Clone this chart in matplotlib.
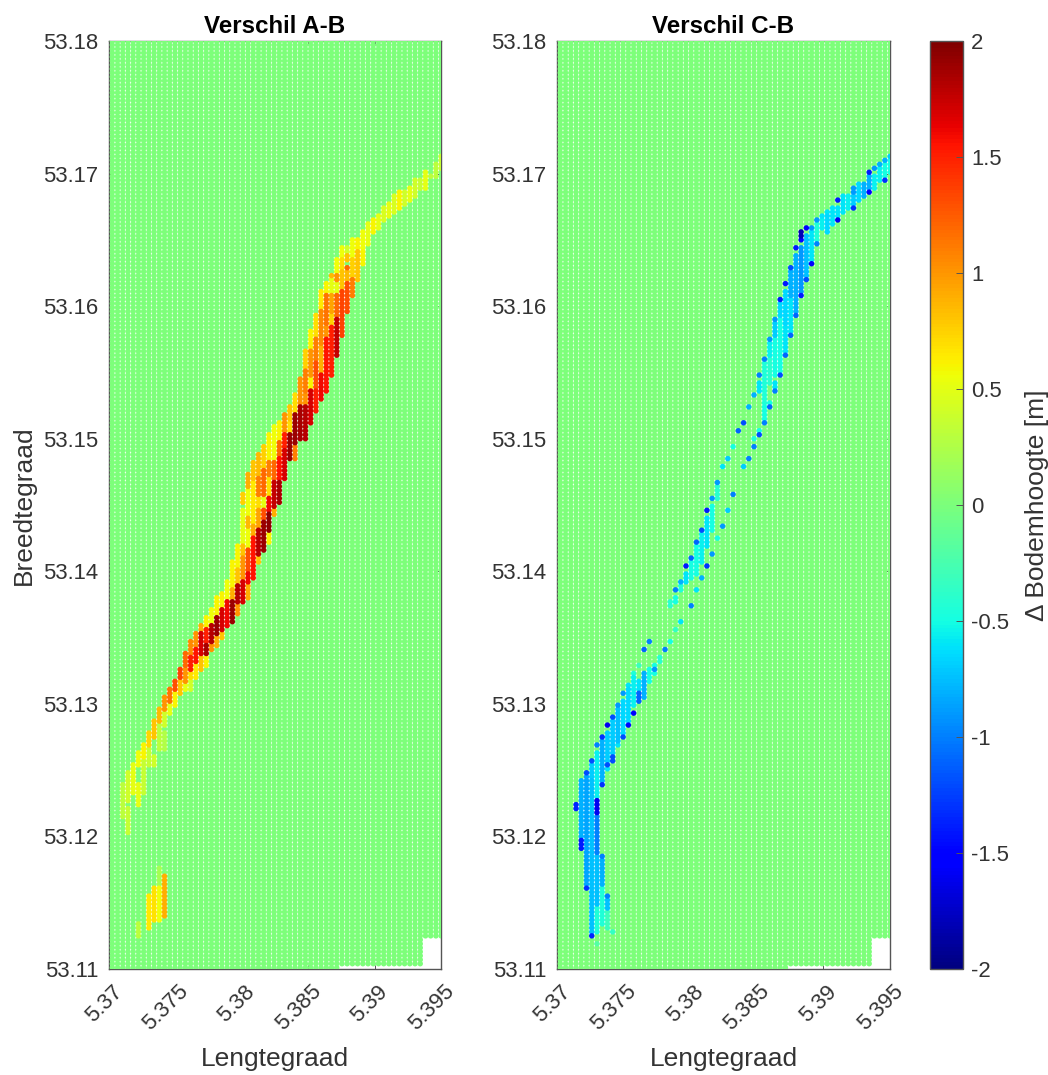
import numpy as np
import matplotlib
matplotlib.use("Agg")
import matplotlib.pyplot as plt
from matplotlib.cm import ScalarMappable
from matplotlib.colors import Normalize
from matplotlib.transforms import ScaledTranslation

plt.rcParams['font.family'] = ['Liberation Sans', 'DejaVu Sans']

# Grid of the survey cells (everything outside the listed segments is 0 m)
grid_lon = np.arange(5.37025, 5.3953, 0.000393)
grid_lat = np.arange(53.1101, 53.1802, 0.0003)
# column index -> lowest latitude present in that column
grid_start_cols = [0, 44, 60]
grid_start_lats = [53.1100, 53.1103, 53.1124]

x_ticks = [5.37, 5.375, 5.38, 5.385, 5.39, 5.395]
x_labels = ['5.37', '5.375', '5.38', '5.385', '5.39', '5.395']
y_ticks = [53.11, 53.12, 53.13, 53.14, 53.15, 53.16, 53.17, 53.18]
y_labels = ['53.11', '53.12', '53.13', '53.14', '53.15', '53.16', '53.17', '53.18']
cb_ticks = [-2, -1.5, -1, -0.5, 0, 0.5, 1, 1.5, 2]
cb_labels = ['-2', '-1.5', '-1', '-0.5', '0', '0.5', '1', '1.5', '2']

# (column, lat_high, lat_low, value)
A_patch = [
    (5, 53.1134, 53.1126, .3), (7, 53.1157, 53.1132, .65), (8, 53.1162, 53.1137, .68),
    (9, 53.1176, 53.1162, .2), (9, 53.1162, 53.1137, .55), (10, 53.1170, 53.1141, .9),
]
A_lobe = [
    (2, 53.1240, 53.1215, .3), (3, 53.1248, 53.1226, .4), (3, 53.1221, 53.1202, .35),
    (4, 53.1255, 53.1232, .5), (5, 53.1264, 53.1253, .55), (5, 53.1240, 53.1224, .5),
    (6, 53.1270, 53.1260, .6), (6, 53.1258, 53.1232, .35), (7, 53.1279, 53.1270, .72),
    (7, 53.1268, 53.1253, .35), (8, 53.1289, 53.1276, .8), (8, 53.1260, 53.1255, .4),
    (9, 53.1297, 53.1285, .85), (9, 53.1285, 53.1265, .3), (10, 53.1305, 53.1293, 1.0),
    (10, 53.1293, 53.1285, .4), (10, 53.1278, 53.1265, .25), (11, 53.1312, 53.1300, 1.15),
    (11, 53.1300, 53.1294, .5), (12, 53.1319, 53.1308, 1.3), (12, 53.1308, 53.1300, .6),
    (13, 53.1327, 53.1317, 1.35), (13, 53.1317, 53.1308, .8),
]
A_mid = [
    (14, 53.1338, 53.1328, 1.2), (14, 53.1328, 53.1316, 1.0), (14, 53.1316, 53.1310, .5),
    (15, 53.1348, 53.1335, 1.05), (15, 53.1335, 53.1325, 1.5), (15, 53.1325, 53.1318, .7), (15, 53.1318, 53.1311, .4),
    (16, 53.1353, 53.1343, 1.0), (16, 53.1343, 53.1329, 1.55), (16, 53.1329, 53.1319, .65),
    (17, 53.1360, 53.1353, .9), (17, 53.1353, 53.1335, 1.7), (17, 53.1335, 53.1325, .8),
    (18, 53.1365, 53.1358, .6), (18, 53.1358, 53.1345, 1.5), (18, 53.1345, 53.1335, 1.85), (18, 53.1335, 53.1328, .6),
    (19, 53.1372, 53.1360, .55), (19, 53.1360, 53.1345, 1.8), (19, 53.1345, 53.1340, 1.0),
    (20, 53.1380, 53.1365, .6), (20, 53.1365, 53.1350, 1.9), (20, 53.1350, 53.1345, .9),
    (21, 53.1383, 53.1373, .6), (21, 53.1373, 53.1355, 1.7), (21, 53.1355, 53.1350, .8),
    (22, 53.1393, 53.1378, .55), (22, 53.1378, 53.1358, 1.6),
    (23, 53.1408, 53.1386, .6), (23, 53.1386, 53.1378, .9), (23, 53.1378, 53.1363, 1.9),
    (24, 53.1421, 53.1403, .6), (24, 53.1403, 53.1391, .8), (24, 53.1391, 53.1376, 1.8), (24, 53.1376, 53.1368, 1.0),
    (25, 53.1458, 53.1452, .75), (25, 53.1448, 53.1421, .5), (25, 53.1421, 53.1411, .8), (25, 53.1411, 53.1393, 1.0), (25, 53.1393, 53.1376, 1.7),
    (26, 53.1474, 53.1461, .9), (26, 53.1461, 53.1441, .55), (26, 53.1441, 53.1433, .85), (26, 53.1433, 53.1418, .55), (26, 53.1418, 53.1398, 1.3), (26, 53.1398, 53.1391, 1.6), (26, 53.1391, 53.1381, .9),
    (27, 53.1482, 53.1469, .8), (27, 53.1469, 53.1436, .65), (27, 53.1436, 53.1426, .9), (27, 53.1426, 53.1396, 1.55),
    (28, 53.1489, 53.1471, .85), (28, 53.1471, 53.1456, 1.1), (28, 53.1456, 53.1448, .7), (28, 53.1448, 53.1431, .95), (28, 53.1431, 53.1411, 1.8), (28, 53.1411, 53.1407, .8),
    (29, 53.1495, 53.1476, .75), (29, 53.1476, 53.1456, 1.2), (29, 53.1456, 53.1448, .5), (29, 53.1448, 53.1438, 1.3), (29, 53.1438, 53.1416, 1.9),
    (30, 53.1504, 53.1484, .6), (30, 53.1484, 53.1471, 1.1), (30, 53.1471, 53.1456, .7), (30, 53.1456, 53.1443, 1.6), (30, 53.1443, 53.1428, 1.95), (30, 53.1428, 53.1421, .6),
    (31, 53.1510, 53.1484, .55), (31, 53.1484, 53.1469, 1.2), (31, 53.1469, 53.1448, 1.75), (31, 53.1448, 53.1443, .9),
    (32, 53.1514, 53.1499, .6), (32, 53.1499, 53.1486, 1.2), (32, 53.1486, 53.1469, 1.55), (32, 53.1469, 53.1453, 1.85),
    (33, 53.1519, 53.1504, 1.0), (33, 53.1504, 53.1491, 1.5), (33, 53.1491, 53.1469, 1.7),
    (34, 53.1526, 53.1514, .8), (34, 53.1514, 53.1504, .7), (34, 53.1504, 53.1486, 1.9),
    (35, 53.1534, 53.1519, .7), (35, 53.1519, 53.1496, 1.9), (35, 53.1496, 53.1486, 1.1),
]
A_upper = [
    (36, 53.1547, 53.1526, 1.0), (36, 53.1524, 53.1499, 1.85),
    (37, 53.1567, 53.1552, .75), (37, 53.1552, 53.1534, 1.1), (37, 53.1534, 53.1524, 1.0), (37, 53.1524, 53.1499, 1.8),
    (38, 53.1581, 53.1567, .6), (38, 53.1567, 53.1547, 1.0), (38, 53.1547, 53.1537, .6), (38, 53.1537, 53.1511, 1.7),
    (39, 53.1593, 53.1577, .7), (39, 53.1577, 53.1557, 1.1), (39, 53.1557, 53.1537, 1.3), (39, 53.1537, 53.1521, 1.5),
    (40, 53.1611, 53.1597, .65), (40, 53.1597, 53.1570, 1.05), (40, 53.1570, 53.1549, .9), (40, 53.1549, 53.1529, 1.6),
    (41, 53.1618, 53.1610, .6), (41, 53.1610, 53.1585, 1.15), (41, 53.1585, 53.1575, 1.0), (41, 53.1575, 53.1535, 1.55),
    (42, 53.1625, 53.1620, .85), (42, 53.1620, 53.1610, .5), (42, 53.1610, 53.1595, .95), (42, 53.1595, 53.1585, .75), (42, 53.1585, 53.1549, 1.5),
    (43, 53.1637, 53.1625, .55), (43, 53.1625, 53.1617, 1.0), (43, 53.1617, 53.1610, .5), (43, 53.1610, 53.1592, 1.2), (43, 53.1592, 53.1564, 1.75),
    (44, 53.1644, 53.1637, .55), (44, 53.1637, 53.1628, .7), (44, 53.1628, 53.1612, .8), (44, 53.1612, 53.1579, 1.35),
    (45, 53.1645, 53.1640, .4), (45, 53.1640, 53.1635, .8), (45, 53.1631, 53.1629, 1.2), (45, 53.1628, 53.1617, .85), (45, 53.1617, 53.1595, 1.3),
    (46, 53.1650, 53.1637, .55), (46, 53.1637, 53.1620, .75), (46, 53.1620, 53.1607, 1.1),
    (47, 53.1651, 53.1642, .6), (47, 53.1642, 53.1620, .8),
    (48, 53.1657, 53.1645, .55), (48, 53.1642, 53.1631, .6),
    (49, 53.1662, 53.1647, .5), (50, 53.1667, 53.1656, .6), (51, 53.1669, 53.1660, .5),
    (52, 53.1676, 53.1665, .45), (53, 53.1679, 53.1669, .5), (54, 53.1683, 53.1670, .45),
    (55, 53.1686, 53.1675, .6), (56, 53.1686, 53.1678, .4), (57, 53.1689, 53.1679, .5),
    (58, 53.1695, 53.1684, .4), (59, 53.1695, 53.1689, .35), (60, 53.1702, 53.1690, .5),
    (61, 53.1700, 53.1698, .3), (62, 53.1708, 53.1698, .3), (63, 53.1713, 53.1704, .35),
]

C_low = [
    (3, 53.1226, 53.1220, -1.35), (4, 53.1242, 53.1197, -.8), (4, 53.1197, 53.1192, -1.4),
    (5, 53.1246, 53.1164, -.85), (6, 53.1254, 53.1242, -.7), (6, 53.1242, 53.1129, -.75),
    (7, 53.1264, 53.1227, -.55), (7, 53.1227, 53.1217, -1.6), (7, 53.1217, 53.1187, -1.0),
    (7, 53.1187, 53.1147, -.75), (7, 53.1147, 53.1127, -.45),
    (8, 53.1273, 53.1242, -.8), (8, 53.1184, 53.1162, -.8), (8, 53.1162, 53.1134, -.45),
    (9, 53.1280, 53.1257, -.7), (9, 53.1153, 53.1144, -.75), (9, 53.1144, 53.1132, -.3),
    (10, 53.1288, 53.1262, -.7), (10, 53.1260, 53.1256, -1.2),
    (11, 53.1296, 53.1271, -.75), (12, 53.1304, 53.1278, -.65), (13, 53.1312, 53.1288, -.65),
    (14, 53.1320, 53.1298, -.55), (15, 53.1318, 53.1310, -.6), (15, 53.1310, 53.1301, -1.1),
    (16, 53.1323, 53.1306, -.8), (17, 53.1328, 53.1317, -.5), (18, 53.1330, 53.1324, -.5),
    (19, 53.1337, 53.1333, -.4),
]
C_low_dots = [
    (5, 53.1249, -1.2), (5, 53.1161, -1.3), (6, 53.1257, -1.2), (6, 53.1125, -1.35),
    (7, 53.1268, -1.0), (7, 53.1118, -.2), (8, 53.1275, -1.3), (8, 53.1239, -1.3), (8, 53.1186, -1.0),
    (9, 53.1283, -1.6), (9, 53.1254, -1.2), (9, 53.1250, -.6), (9, 53.1156, -1.0),
    (10, 53.1291, -1.2), (10, 53.1127, -.35), (11, 53.1299, -.9), (11, 53.1268, -.6),
    (12, 53.1307, -.9), (12, 53.1275, -1.2), (13, 53.1314, -.6), (13, 53.1283, -1.5),
    (14, 53.1323, -.45), (14, 53.1294, -1.5), (15, 53.1330, -.3), (16, 53.1340, -1.1),
    (17, 53.1348, -1.0), (18, 53.1325, -.9), (20, 53.1340, -1.0), (21, 53.1348, -.5),
    (22, 53.1356, -.35), (23, 53.1361, -.6),
]
C_mid = [
    (21, 53.1378, 53.1374, -.4), (22, 53.1382, 53.1378, -.5), (23, 53.1390, 53.1386, -.45),
    (24, 53.1400, 53.1391, -.6), (25, 53.1408, 53.1396, -.5), (26, 53.1419, 53.1398, -.5),
    (27, 53.1429, 53.1408, -.55), (28, 53.1441, 53.1419, -.6), (29, 53.1451, 53.1431, -.5),
    (30, 53.1465, 53.1456, -.4), (38, 53.1544, 53.1537, -.6), (38, 53.1508, 53.1505, -.5),
    (39, 53.1557, 53.1524, -.45), (39, 53.1524, 53.1514, -.5),
    (40, 53.1572, 53.1562, -.55), (40, 53.1562, 53.1542, -.4), (40, 53.1529, 53.1525, -.5),
    (41, 53.1587, 53.1577, -.7), (41, 53.1577, 53.1549, -.5), (41, 53.1542, 53.1538, -.6),
]
C_mid_dots = [
    (22, 53.1385, -1.0), (23, 53.1393, -.8), (24, 53.1403, -1.4), (25, 53.1411, -1.1), (25, 53.1374, -1.0),
    (26, 53.1421, -1.1), (26, 53.1385, -.6), (27, 53.1432, -1.2), (27, 53.1396, -.8),
    (28, 53.1445, -1.4), (28, 53.1403, -1.3), (29, 53.1455, -.9), (29, 53.1413, -.9),
    (30, 53.1468, -.9), (30, 53.1424, -.5), (31, 53.1478, -.6), (31, 53.1434, -.9),
    (32, 53.1486, -.7), (32, 53.1445, -.7), (33, 53.1495, -.5), (33, 53.1457, -1.0),
    (34, 53.1505, -1.1), (35, 53.1513, -1.2), (35, 53.1478, -.7), (36, 53.1523, -.8), (36, 53.1486, -1.0),
    (37, 53.1533, -.8), (37, 53.1499, -.45), (37, 53.1494, -1.0), (38, 53.1547, -1.0), (38, 53.1502, -1.2),
    (39, 53.1559, -1.0), (39, 53.1513, -1.0), (40, 53.1574, -.9), (40, 53.1523, -1.1),
    (41, 53.1591, -.9), (41, 53.1536, -1.0),
]
C_upper = [
    (42, 53.1603, 53.1592, -.65), (42, 53.1592, 53.1552, -.5),
    (43, 53.1613, 53.1584, -.65), (43, 53.1584, 53.1564, -.6),
    (44, 53.1627, 53.1607, -.8), (44, 53.1607, 53.1579, -.6),
    (45, 53.1640, 53.1595, -.8), (46, 53.1656, 53.1652, -1.8), (46, 53.1646, 53.1608, -.9),
    (47, 53.1655, 53.1621, -.75), (48, 53.1657, 53.1635, -.6), (49, 53.1664, 53.1647, -.45),
    (50, 53.1666, 53.1659, -.55), (51, 53.1669, 53.1657, -.65), (52, 53.1675, 53.1661, -.6),
    (53, 53.1676, 53.1667, -.6), (54, 53.1683, 53.1671, -.6), (55, 53.1684, 53.1673, -.55),
    (56, 53.1690, 53.1685, -.9), (56, 53.1685, 53.1676, -.7), (57, 53.1693, 53.1680, -.65),
    (58, 53.1694, 53.1683, -.8), (59, 53.1698, 53.1688, -.8), (60, 53.1700, 53.1690, -.55),
    (61, 53.1704, 53.1695, -.55), (62, 53.1708, 53.1698, -.5), (63, 53.1711, 53.1700, -.5),
]
C_upper_dots = [
    (42, 53.1606, -1.4), (42, 53.1549, -1.2), (43, 53.1617, -1.4), (43, 53.1562, -1.1),
    (44, 53.1630, -1.2), (44, 53.1578, -1.1), (45, 53.1643, -1.4), (45, 53.1593, -1.1),
    (46, 53.1649, -1.5), (46, 53.1607, -1.4), (47, 53.1659, -1.5), (47, 53.1620, -1.2),
    (48, 53.1660, -.9), (48, 53.1633, -1.5), (49, 53.1666, -.9), (49, 53.1646, -1.0),
    (50, 53.1669, -.6), (51, 53.1671, -.6), (53, 53.1679, -1.4), (53, 53.1664, -1.6),
    (56, 53.1675, -1.3), (59, 53.1700, -1.4), (59, 53.1685, -1.5), (60, 53.1703, -.9),
    (61, 53.1706, -.8), (62, 53.1710, -.8), (62, 53.1695, -1.3), (63, 53.1714, -.7),
]


def build_field(segments, dots):
    field = np.zeros((grid_lat.size, grid_lon.size))
    for col, hi, lo, val in segments:
        field[(grid_lat > lo - 0.0001) & (grid_lat <= hi + 0.0001), col] = val
    for col, lat, val in dots:
        field[np.argmin(np.abs(grid_lat - lat)), col] = val
    return field


def present_mask():
    starts = np.array(grid_start_lats)[np.searchsorted(grid_start_cols, np.arange(grid_lon.size), side='right') - 1]
    return grid_lat[:, None] >= starts[None, :]


W, H = 1048, 1075
fig = plt.figure(figsize=(W / 100, H / 100), dpi=100)
TXT = '#333333'
SP = '#555555'


def axes_px(x0, y0, x1, y1):
    return fig.add_axes([x0 / W, 1 - y1 / H, (x1 - x0) / W, (y1 - y0) / H])


norm = Normalize(-2, 2)
mask = present_mask()
LON, LAT = np.meshgrid(grid_lon, grid_lat)


def panel(ax, field, title):
    order = np.argsort(np.abs(field[mask]), kind='stable')
    ax.scatter(LON[mask][order], LAT[mask][order], c=field[mask][order], cmap='jet', norm=norm,
               s=15.5, marker='o', linewidths=0, zorder=3)
    ax.set_xlim(5.37, 5.395)
    ax.set_ylim(53.11, 53.18)
    ax.set_xticks(x_ticks, x_labels)
    ax.set_yticks(y_ticks, y_labels)
    ax.tick_params(direction='in', length=3, width=0.7, color=SP, labelcolor=TXT, labelsize=15.9,
                   top=True, right=True, pad=7.5)
    ax.tick_params(axis='x', pad=6)
    for lab in ax.get_xticklabels():
        lab.set_rotation(45)
        lab.set_ha('right')
        lab.set_va('center')
        lab.set_rotation_mode('anchor')
        lab.set_transform(lab.get_transform() + ScaledTranslation(10 / 100, -11 / 100, fig.dpi_scale_trans))
    for sp in ax.spines.values():
        sp.set_color(SP)
        sp.set_linewidth(1.0)
    ax.set_xlabel('Lengtegraad', fontsize=19, color=TXT, va='center')
    ax.xaxis.set_label_coords(0.5, -0.097)
    ax.set_title(title, fontsize=17.4, fontweight='bold', color='black', pad=6)


ax1 = axes_px(109, 41, 441, 969)
ax2 = axes_px(557, 41, 890, 969)
panel(ax1, build_field(A_patch + A_lobe + A_mid + A_upper, []), 'Verschil A-B')
panel(ax2, build_field(C_low + C_mid + C_upper, C_low_dots + C_mid_dots + C_upper_dots), 'Verschil C-B')
ax1.set_ylabel('Breedtegraad', fontsize=19, color=TXT, va='center')
ax1.yaxis.set_label_coords((24 - 109) / 332, 0.5)

cax = axes_px(930, 41, 963, 969)
cb = fig.colorbar(ScalarMappable(norm=norm, cmap='jet'), cax=cax)
cb.set_ticks(cb_ticks, labels=cb_labels)
cb.ax.tick_params(direction='in', length=5, width=0.7, color=SP, labelcolor=TXT, labelsize=15.9, pad=6)
cb.outline.set_edgecolor(SP)
cb.outline.set_linewidth(1.0)
cb.set_label('Δ Bodemhoogte [m]', fontsize=19, color=TXT, va='center')
cb.ax.yaxis.set_label_coords((1037 - 930) / 33, 0.5)

fig.savefig('out.png', dpi=100, facecolor='white')
